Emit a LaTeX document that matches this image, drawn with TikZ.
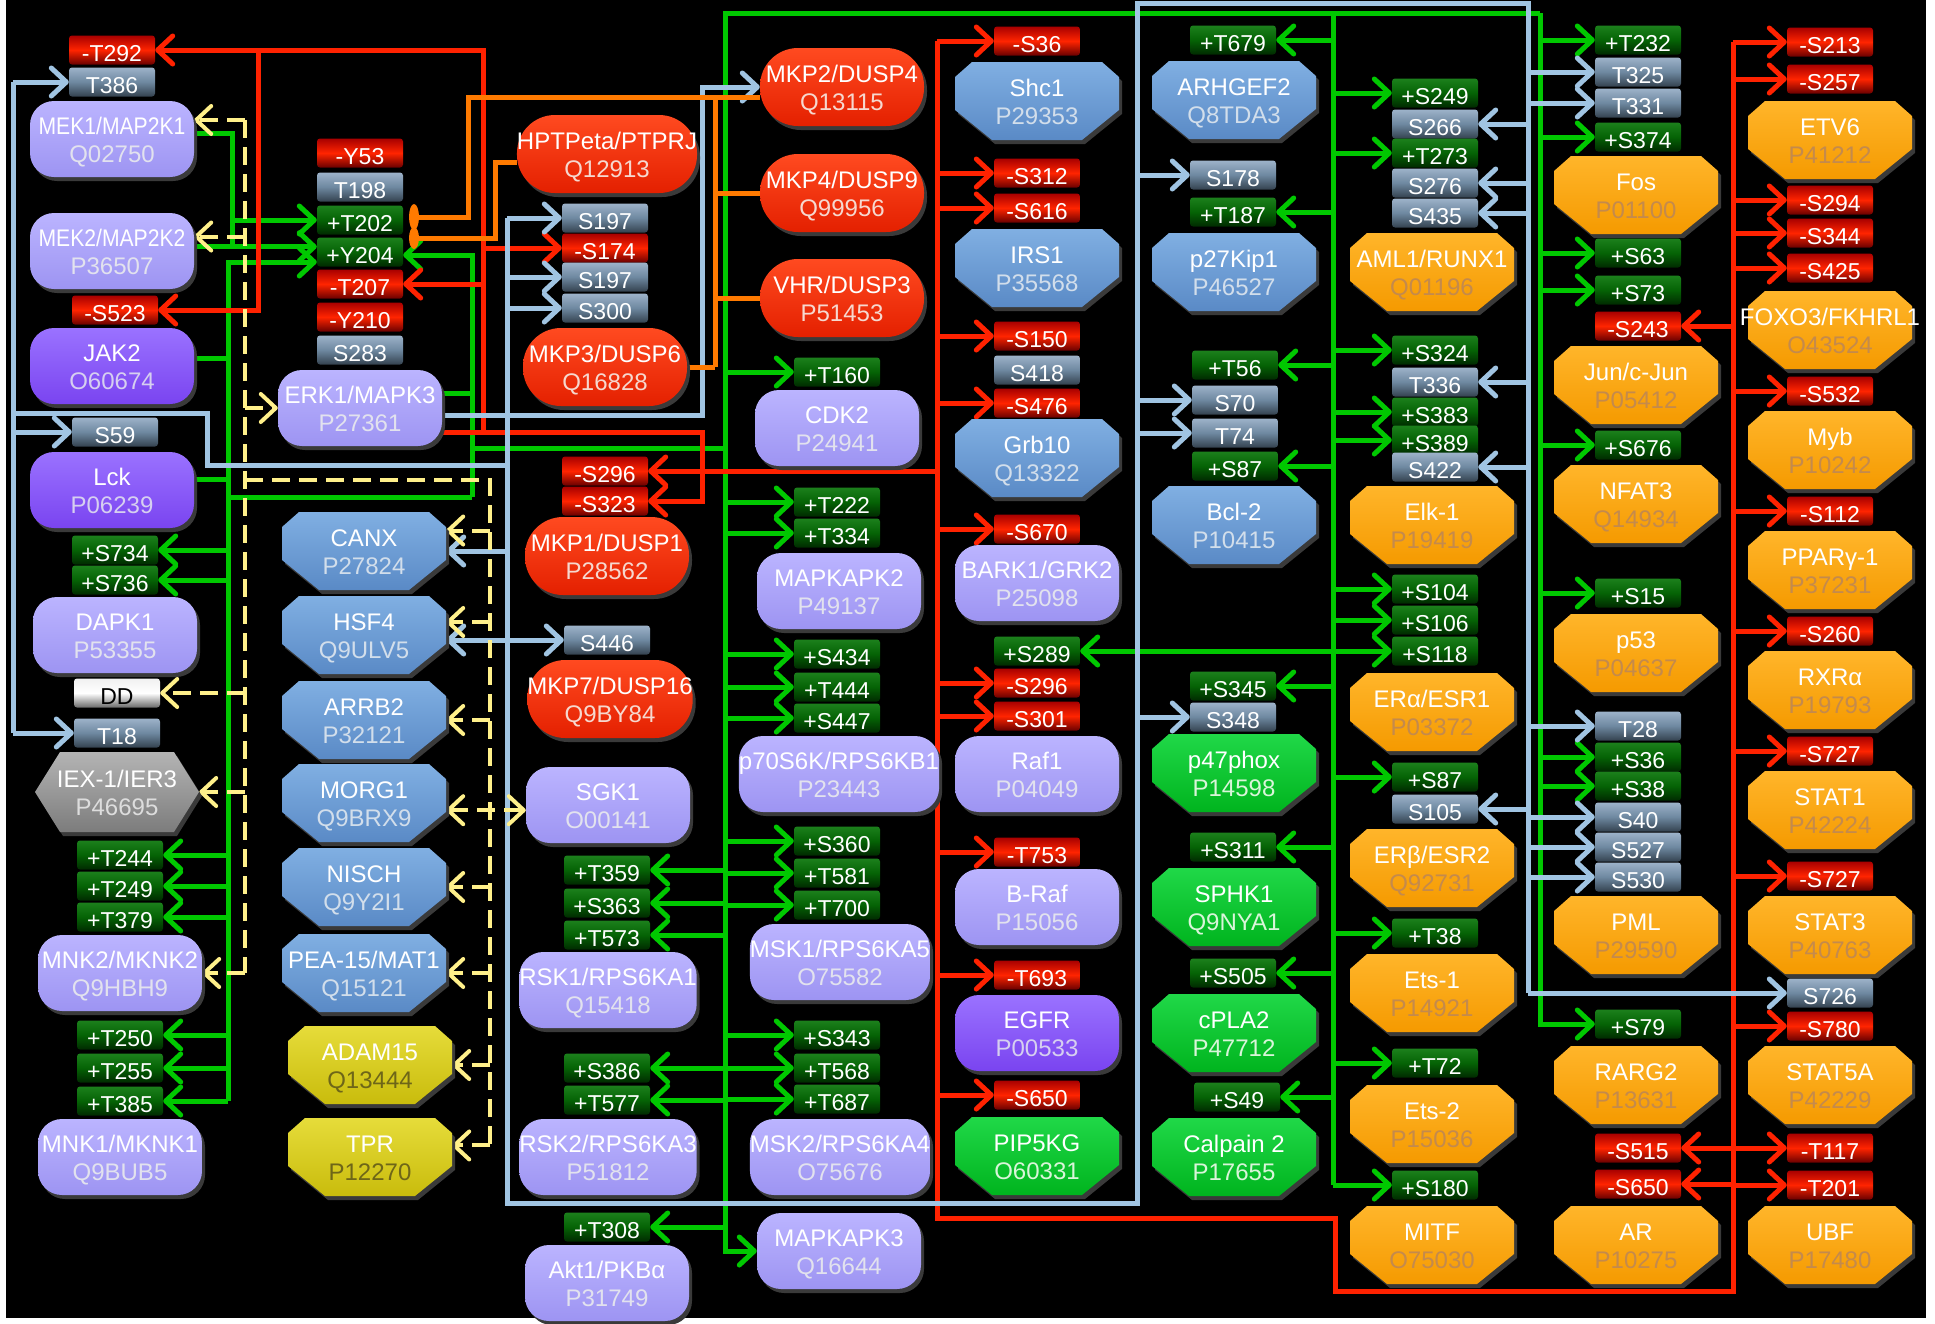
\documentclass[tikz,border=0pt]{standalone}
\usepackage{fontspec}
\usepackage{graphicx}
\setmainfont{Liberation Sans}
\usetikzlibrary{arrows.meta,shadows}

% line colours
\definecolor{lgrn}{HTML}{00C800}
\definecolor{lred}{HTML}{FF2200}
\definecolor{lblu}{HTML}{A0C4E2}
\definecolor{lorg}{HTML}{FF7A00}
\definecolor{lyel}{HTML}{FFF08A}
\definecolor{shadowc}{HTML}{3A3A3A}
% site tags
\definecolor{posT}{HTML}{1C801C}\definecolor{posM}{HTML}{056305}\definecolor{posB}{HTML}{002A00}
\definecolor{negT}{HTML}{A80000}\definecolor{negM}{HTML}{FF2400}\definecolor{negB}{HTML}{6A0000}
\definecolor{neuT}{HTML}{9DB2C9}\definecolor{neuM}{HTML}{6E88A0}\definecolor{neuB}{HTML}{34424F}
\definecolor{whtT}{HTML}{F0F0F0}\definecolor{whtM}{HTML}{FFFFFF}\definecolor{whtB}{HTML}{6A6A6A}
% protein boxes
\definecolor{kinT}{HTML}{BBB4FF}\definecolor{kinB}{HTML}{9D94F2}\definecolor{kinA}{HTML}{E2E2EE}
\definecolor{rtkT}{HTML}{9A72FF}\definecolor{rtkB}{HTML}{7A44F0}\definecolor{rtkA}{HTML}{D6CFF0}
\definecolor{phT}{HTML}{FF4A20}\definecolor{phB}{HTML}{E42000}\definecolor{phA}{HTML}{F6D8CF}
\definecolor{bluT}{HTML}{80AFE2}\definecolor{bluB}{HTML}{5A8AC6}\definecolor{bluA}{HTML}{D2DEEB}
\definecolor{orgT}{HTML}{FFB52A}\definecolor{orgB}{HTML}{F59A00}\definecolor{orgA}{HTML}{C48A4C}
\definecolor{grbT}{HTML}{20D848}\definecolor{grbB}{HTML}{00B41E}\definecolor{grbA}{HTML}{D9F5D9}
\definecolor{yelT}{HTML}{E6DC3A}\definecolor{yelB}{HTML}{C9BC0C}\definecolor{yelA}{HTML}{6E6618}
\definecolor{gryT}{HTML}{B4B4B4}\definecolor{gryB}{HTML}{7C7C7C}\definecolor{gryA}{HTML}{DDDDDD}

\pgfdeclarelayer{bg}
\pgfdeclarelayer{wires}
\pgfsetlayers{bg,wires,main}

\newcommand\boxfont{\fontsize{24}{28}\selectfont}
\newcommand\tagfont{\fontsize{23}{26}\selectfont}

% chamfered target box: name, x, y, colour set, title, accession
\newcommand\octo[6]{%
  \fill[shadowc,shift={(3,4)}] (#2-82,#3-24) -- (#2-65,#3-39) -- (#2+65,#3-39) -- (#2+82,#3-24)
    -- (#2+82,#3+9) -- (#2+45,#3+39) -- (#2-45,#3+39) -- (#2-82,#3+9) -- cycle;
  \shade[top color=#4T,bottom color=#4B] (#2-82,#3-24) -- (#2-65,#3-39) -- (#2+65,#3-39) -- (#2+82,#3-24)
    -- (#2+82,#3+9) -- (#2+45,#3+39) -- (#2-45,#3+39) -- (#2-82,#3+9) -- cycle;
  \node[prot] (#1) at (#2,#3) {#5\\\textcolor{#4A}{#6}};}

\begin{document}
\begin{tikzpicture}[x=1pt,y=-1pt,>={Straight Barb[length=15pt,width=28pt,round]},
  prot/.style={align=center,text=white,font=\boxfont,inner sep=0pt,minimum width=164pt,minimum height=78pt,
    text height=49pt,text depth=2pt},
  shd/.style={drop shadow={shadow xshift=3pt,shadow yshift=-4pt,fill=shadowc,opacity=1}},
  kin/.style={prot,minimum height=76pt,rounded corners=24pt,shd,top color=kinT,bottom color=kinB},
  rtk/.style={kin,top color=rtkT,bottom color=rtkB},
  phos/.style={prot,rounded corners=38pt,shd,top color=phT,bottom color=phB},
  tagbox/.style={minimum width=86pt,minimum height=29pt,inner sep=0pt,rounded corners=3pt,text=white,
    font=\tagfont,text height=22pt,text depth=0pt},
  ptag/.style={tagbox,top color=posT,bottom color=posB,middle color=posM},
  ntag/.style={tagbox,top color=negT,bottom color=negB,middle color=negM},
  gtag/.style={tagbox,top color=neuT,bottom color=neuB,middle color=neuM},
  wtag/.style={tagbox,top color=whtT,bottom color=whtB,middle color=whtM,text=black},
  gline/.style={draw=lgrn,line width=5pt},
  gar/.style={gline,->},
  rline/.style={draw=lred,line width=5pt},
  rar/.style={rline,->},
  bwire/.style={draw=lblu,line width=5pt},
  barr/.style={bwire,->},
  oline/.style={draw=lorg,line width=5pt},
  yline/.style={draw=lyel,line width=4pt,dash pattern=on 18pt off 9pt},
  yar/.style={yline,->}]
\useasboundingbox (0,0) rectangle (1935,1323);
\begin{pgfonlayer}{bg}
  \fill[white] (0,0) rectangle (1935,1323);
  \fill[black] (6,0) rectangle (1926,1318);
\end{pgfonlayer}

% column 1
\node[ntag] (mek1T292) at (112,50) {-T292};
\node[gtag] (mek1T386) at (112,82) {T386};
\node[kin] (mek1) at (112,139) {\scalebox{.88}[1]{MEK1/MAP2K1}\\\textcolor{kinA}{Q02750}};
\node[kin] (mek2) at (112,251) {\scalebox{.88}[1]{MEK2/MAP2K2}\\\textcolor{kinA}{P36507}};
\node[ntag] (jak2S523) at (115,310) {-S523};
\node[rtk] (jak2) at (112,366) {JAK2\\\textcolor{rtkA}{O60674}};
\node[gtag] (lckS59) at (115,432) {S59};
\node[rtk] (lck) at (112,490) {Lck\\\textcolor{rtkA}{P06239}};
\node[ptag] (dapkS734) at (115,550) {+S734};
\node[ptag] (dapkS736) at (115,580) {+S736};
\node[kin] (dapk1) at (115,635) {DAPK1\\\textcolor{kinA}{P53355}};
\node[wtag] (dapkDD) at (117,693) {DD};
\node[gtag] (iexT18) at (117,733) {T18};
\fill[shadowc,shift={(3,4)}] (35,792) -- (60,752) -- (174,752) -- (199,792) -- (174,832) -- (60,832) -- cycle;
\shade[top color=gryT,bottom color=gryB] (35,792) -- (60,752) -- (174,752) -- (199,792) -- (174,832) -- (60,832) -- cycle;
\node[prot] (iex) at (117,792) {IEX-1/IER3\\\textcolor{gryA}{P46695}};
\node[ptag] (mnk2T244) at (120,855) {+T244};
\node[ptag] (mnk2T249) at (120,886) {+T249};
\node[ptag] (mnk2T379) at (120,917) {+T379};
\node[kin] (mnk2) at (120,973) {MNK2/MKNK2\\\textcolor{kinA}{Q9HBH9}};
\node[ptag] (mnk1T250) at (120,1035) {+T250};
\node[ptag] (mnk1T255) at (120,1068) {+T255};
\node[ptag] (mnk1T385) at (120,1101) {+T385};
\node[kin] (mnk1) at (120,1157) {MNK1/MKNK1\\\textcolor{kinA}{Q9BUB5}};

% ERK1 and its sites
\node[ntag] (erkY53) at (360,153) {-Y53};
\node[gtag] (erkT198) at (360,187) {T198};
\node[ptag] (erkT202) at (360,220) {+T202};
\node[ptag] (erkY204) at (360,252) {+Y204};
\node[ntag] (erkT207) at (360,284) {-T207};
\node[ntag] (erkY210) at (360,317) {-Y210};
\node[gtag] (erkS283) at (360,350) {S283};
\node[kin] (erk1) at (360,408) {ERK1/MAPK3\\\textcolor{kinA}{P27361}};

% binding partners
\octo{canx}{364}{551}{blu}{CANX}{P27824}
\octo{hsf4}{364}{635}{blu}{HSF4}{Q9ULV5}
\octo{arrb2}{364}{720}{blu}{ARRB2}{P32121}
\octo{morg1}{364}{803}{blu}{MORG1}{Q9BRX9}
\octo{nisch}{364}{887}{blu}{NISCH}{Q9Y2I1}
\octo{pea15}{364}{973}{blu}{PEA-15/MAT1}{Q15121}
\octo{adam15}{370}{1065}{yel}{ADAM15}{Q13444}
\octo{tpr}{370}{1157}{yel}{TPR}{P12270}

% column 3
\node[phos] (hptp) at (607,154) {HPTPeta/PTPRJ\\\textcolor{phA}{Q12913}};
\node[gtag] (mkp3S197a) at (605,218) {S197};
\node[ntag] (mkp3S174) at (605,248) {-S174};
\node[gtag] (mkp3S197b) at (605,277) {S197};
\node[gtag] (mkp3S300) at (605,308) {S300};
\node[phos] (mkp3) at (605,367) {MKP3/DUSP6\\\textcolor{phA}{Q16828}};
\node[ntag] (mkp1S296) at (605,471) {-S296};
\node[ntag] (mkp1S323) at (605,501) {-S323};
\node[phos] (mkp1) at (607,556) {MKP1/DUSP1\\\textcolor{phA}{P28562}};
\node[gtag] (mkp7S446) at (607,640) {S446};
\node[phos] (mkp7) at (610,699) {MKP7/DUSP16\\\textcolor{phA}{Q9BY84}};
\node[kin] (sgk1) at (608,805) {SGK1\\\textcolor{kinA}{O00141}};
\node[ptag] (rsk1T359) at (607,870) {+T359};
\node[ptag] (rsk1S363) at (607,903) {+S363};
\node[ptag] (rsk1T573) at (607,935) {+T573};
\node[kin] (rsk1) at (608,990) {RSK1/RPS6KA1\\\textcolor{kinA}{Q15418}};
\node[ptag] (rsk2S386) at (607,1068) {+S386};
\node[ptag] (rsk2T577) at (607,1100) {+T577};
\node[kin] (rsk2) at (608,1157) {RSK2/RPS6KA3\\\textcolor{kinA}{P51812}};
\node[ptag] (aktT308) at (607,1227) {+T308};
\node[kin] (akt1) at (607,1283) {Akt1/PKBα\\\textcolor{kinA}{P31749}};

% column 4
\node[phos] (mkp2) at (842,87) {MKP2/DUSP4\\\textcolor{phA}{Q13115}};
\node[phos] (mkp4) at (842,193) {MKP4/DUSP9\\\textcolor{phA}{Q99956}};
\node[phos] (vhr) at (842,298) {VHR/DUSP3\\\textcolor{phA}{P51453}};
\node[ptag] (cdkT160) at (837,372) {+T160};
\node[kin] (cdk2) at (837,428) {CDK2\\\textcolor{kinA}{P24941}};
\node[ptag] (mk2T222) at (837,502) {+T222};
\node[ptag] (mk2T334) at (837,533) {+T334};
\node[kin] (mk2) at (839,591) {MAPKAPK2\\\textcolor{kinA}{P49137}};
\node[ptag] (p70S434) at (837,654) {+S434};
\node[ptag] (p70T444) at (837,687) {+T444};
\node[ptag] (p70S447) at (837,718) {+S447};
\node[kin] (p70) at (839,774) {p70S6K/RPS6KB1\\\textcolor{kinA}{P23443}};
\node[ptag] (msk1S360) at (837,841) {+S360};
\node[ptag] (msk1T581) at (837,873) {+T581};
\node[ptag] (msk1T700) at (837,905) {+T700};
\node[kin] (msk1) at (840,962) {MSK1/RPS6KA5\\\textcolor{kinA}{O75582}};
\node[ptag] (msk2S343) at (837,1035) {+S343};
\node[ptag] (msk2T568) at (837,1068) {+T568};
\node[ptag] (msk2T687) at (837,1099) {+T687};
\node[kin] (msk2) at (840,1157) {MSK2/RPS6KA4\\\textcolor{kinA}{O75676}};
\node[kin] (mk3) at (839,1251) {MAPKAPK3\\\textcolor{kinA}{Q16644}};

% column 5
\node[ntag] (shcS36) at (1037,41) {-S36};
\octo{shc1}{1037}{101}{blu}{Shc1}{P29353}
\node[ntag] (irsS312) at (1037,173) {-S312};
\node[ntag] (irsS616) at (1037,208) {-S616};
\octo{irs1}{1037}{268}{blu}{IRS1}{P35568}
\node[ntag] (grbS150) at (1037,336) {-S150};
\node[gtag] (grbS418) at (1037,370) {S418};
\node[ntag] (grbS476) at (1037,403) {-S476};
\octo{grb10}{1037}{458}{blu}{Grb10}{Q13322}
\node[ntag] (grkS670) at (1037,529) {-S670};
\node[kin] (grk2) at (1037,583) {BARK1/GRK2\\\textcolor{kinA}{P25098}};
\node[ptag] (rafS289) at (1037,651) {+S289};
\node[ntag] (rafS296) at (1037,683) {-S296};
\node[ntag] (rafS301) at (1037,716) {-S301};
\node[kin] (raf1) at (1037,774) {Raf1\\\textcolor{kinA}{P04049}};
\node[ntag] (brafT753) at (1037,852) {-T753};
\node[kin] (braf) at (1037,907) {B-Raf\\\textcolor{kinA}{P15056}};
\node[ntag] (egfrT693) at (1037,975) {-T693};
\node[rtk] (egfr) at (1037,1033) {EGFR\\\textcolor{rtkA}{P00533}};
\node[ntag] (pipS650) at (1037,1095) {-S650};
\octo{pip5kg}{1037}{1156}{grb}{PIP5KG}{O60331}

% column 6
\node[ptag] (arhT679) at (1233,40) {+T679};
\octo{arhgef2}{1234}{100}{blu}{ARHGEF2}{Q8TDA3}
\node[gtag] (p27S178) at (1233,175) {S178};
\node[ptag] (p27T187) at (1233,212) {+T187};
\octo{p27}{1234}{272}{blu}{p27Kip1}{P46527}
\node[ptag] (bclT56) at (1235,365) {+T56};
\node[gtag] (bclS70) at (1235,400) {S70};
\node[gtag] (bclT74) at (1235,433) {T74};
\node[ptag] (bclS87) at (1235,466) {+S87};
\octo{bcl2}{1234}{525}{blu}{Bcl-2}{P10415}
\node[ptag] (p47S345) at (1233,686) {+S345};
\node[gtag] (p47S348) at (1233,717) {S348};
\octo{p47}{1234}{773}{grb}{p47phox}{P14598}
\node[ptag] (sphkS311) at (1233,847) {+S311};
\octo{sphk1}{1234}{907}{grb}{SPHK1}{Q9NYA1}
\node[ptag] (cplaS505) at (1233,973) {+S505};
\octo{cpla2}{1234}{1033}{grb}{cPLA2}{P47712}
\node[ptag] (capnS49) at (1237,1097) {+S49};
\octo{capn2}{1234}{1157}{grb}{Calpain 2}{P17655}

% column 7
\node[ptag] (amlS249) at (1435,93) {+S249};
\node[gtag] (amlS266) at (1435,124) {S266};
\node[ptag] (amlT273) at (1435,153) {+T273};
\node[gtag] (amlS276) at (1435,183) {S276};
\node[gtag] (amlS435) at (1435,213) {S435};
\octo{aml1}{1432}{272}{org}{AML1/RUNX1}{Q01196}
\node[ptag] (elkS324) at (1435,350) {+S324};
\node[gtag] (elkT336) at (1435,382) {T336};
\node[ptag] (elkS383) at (1435,412) {+S383};
\node[ptag] (elkS389) at (1435,440) {+S389};
\node[gtag] (elkS422) at (1435,467) {S422};
\octo{elk1}{1432}{525}{org}{Elk-1}{P19419}
\node[ptag] (eraS104) at (1435,589) {+S104};
\node[ptag] (eraS106) at (1435,620) {+S106};
\node[ptag] (eraS118) at (1435,651) {+S118};
\octo{era}{1432}{712}{org}{ERα/ESR1}{P03372}
\node[ptag] (erbS87) at (1435,777) {+S87};
\node[gtag] (erbS105) at (1435,809) {S105};
\octo{erb}{1432}{868}{org}{ERβ/ESR2}{Q92731}
\node[ptag] (ets1T38) at (1435,933) {+T38};
\octo{ets1}{1432}{993}{org}{Ets-1}{P14921}
\node[ptag] (ets2T72) at (1435,1063) {+T72};
\octo{ets2}{1432}{1124}{org}{Ets-2}{P15036}
\node[ptag] (mitfS180) at (1435,1185) {+S180};
\octo{mitf}{1432}{1245}{org}{MITF}{O75030}

% column 8
\node[ptag] (fosT232) at (1638,40) {+T232};
\node[gtag] (fosT325) at (1638,72) {T325};
\node[gtag] (fosT331) at (1638,103) {T331};
\node[ptag] (fosS374) at (1638,137) {+S374};
\octo{fos}{1636}{195}{org}{Fos}{P01100}
\node[ptag] (junS63) at (1638,253) {+S63};
\node[ptag] (junS73) at (1638,290) {+S73};
\node[ntag] (junS243) at (1638,326) {-S243};
\octo{jun}{1636}{385}{org}{Jun/c-Jun}{P05412}
\node[ptag] (nfatS676) at (1638,445) {+S676};
\octo{nfat3}{1636}{504}{org}{NFAT3}{Q14934}
\node[ptag] (p53S15) at (1638,593) {+S15};
\octo{p53}{1636}{653}{org}{p53}{P04637}
\node[gtag] (pmlT28) at (1638,726) {T28};
\node[ptag] (pmlS36) at (1638,757) {+S36};
\node[ptag] (pmlS38) at (1638,786) {+S38};
\node[gtag] (pmlS40) at (1638,817) {S40};
\node[gtag] (pmlS527) at (1638,847) {S527};
\node[gtag] (pmlS530) at (1638,877) {S530};
\octo{pml}{1636}{935}{org}{PML}{P29590}
\node[ptag] (rargS79) at (1638,1024) {+S79};
\octo{rarg2}{1636}{1085}{org}{RARG2}{P13631}
\node[ntag] (arS515) at (1638,1148) {-S515};
\node[ntag] (arS650) at (1638,1184) {-S650};
\octo{ar}{1636}{1245}{org}{AR}{P10275}

% column 9
\node[ntag] (etvS213) at (1830,42) {-S213};
\node[ntag] (etvS257) at (1830,79) {-S257};
\octo{etv6}{1830}{140}{org}{ETV6}{P41212}
\node[ntag] (foxS294) at (1830,200) {-S294};
\node[ntag] (foxS344) at (1830,233) {-S344};
\node[ntag] (foxS425) at (1830,268) {-S425};
\octo{foxo3}{1830}{330}{org}{FOXO3/FKHRL1}{O43524}
\node[ntag] (mybS532) at (1830,391) {-S532};
\octo{myb}{1830}{450}{org}{Myb}{P10242}
\node[ntag] (pparS112) at (1830,511) {-S112};
\octo{ppar}{1830}{570}{org}{PPARγ-1}{P37231}
\node[ntag] (rxrS260) at (1830,631) {-S260};
\octo{rxra}{1830}{690}{org}{RXRα}{P19793}
\node[ntag] (stat1S727) at (1830,751) {-S727};
\octo{stat1}{1830}{810}{org}{STAT1}{P42224}
\node[ntag] (stat3S727) at (1830,876) {-S727};
\octo{stat3}{1830}{935}{org}{STAT3}{P40763}
\node[gtag] (s5aS726) at (1830,993) {S726};
\node[ntag] (s5aS780) at (1830,1026) {-S780};
\octo{stat5a}{1830}{1085}{org}{STAT5A}{P42229}
\node[ntag] (ubfT117) at (1830,1148) {-T117};
\node[ntag] (ubfT201) at (1830,1185) {-T201};
\octo{ubf}{1830}{1245}{org}{UBF}{P17480}

\begin{pgfonlayer}{wires}
% green: activating sites
\coordinate (gbA) at (725,13);
\coordinate (gbB) at (1333,13);
\coordinate (gbC) at (1540,13);
\coordinate (gbE) at (472,255);
\coordinate (gbF) at (472,497);
\coordinate (gbG) at (228,497);
\coordinate (gbH) at (228,262);
\coordinate (gbI) at (472,448);
\coordinate (gbM) at (232,220);
\draw[gar] (gbC) -- (gbA) -- (gbA |- mk3) -- (mk3.west);
\draw[gar] (gbC) -- (gbC |- rargS79) -- (rargS79.west);
\draw[gline] (gbB) -- (gbB |- mitfS180);
\foreach \n in {cdkT160,mk2T222,mk2T334,p70S434,p70T444,p70S447,msk1S360,msk1T581,msk1T700,msk2S343,msk2T568,msk2T687}
  \draw[gar] (gbA |- \n) -- (\n.west);
\foreach \n in {rsk1T359,rsk1S363,rsk1T573,rsk2S386,rsk2T577,aktT308}
  \draw[gar] (gbA |- \n) -- (\n.east);
\foreach \n in {amlS249,amlT273,elkS324,elkS383,elkS389,eraS104,eraS106,eraS118,erbS87,ets1T38,ets2T72,mitfS180}
  \draw[gar] (gbB |- \n) -- (\n.west);
\foreach \n in {arhT679,p27T187,bclT56,bclS87,p47S345,sphkS311,cplaS505,capnS49,rafS289}
  \draw[gar] (gbB |- \n) -- (\n.east);
\foreach \n in {fosT232,fosS374,junS63,junS73,nfatS676,p53S15,pmlS36,pmlS38}
  \draw[gar] (gbC |- \n) -- (\n.west);
\draw[gline] (erk1.10) -- (erk1.10 -| gbE);
\draw[gar] (gbF) -- (gbE) -- (erkY204.east |- gbE);
\draw[gline] (gbI) -- (gbA |- gbI);
\draw[gline] (gbF) -- (gbG) -- (gbG |- mnk1T385);
\draw[gar] (gbG) -- (gbH) -- (erkY204.west |- gbH);
\foreach \n in {dapkS734,dapkS736,mnk2T244,mnk2T249,mnk2T379,mnk1T250,mnk1T255,mnk1T385}
  \draw[gar] (gbG |- \n) -- (\n.east);
\draw[gline] (jak2.5) -- (gbG |- jak2.5);
\draw[gline] (lck.7) -- (gbG |- lck.7);
\draw[gar] (mek1.4) -| (gbM) -- (erkT202.west);
\draw[gline] (gbM) -- (gbM |- mek2.3);
\draw[gar] (mek2.3) -- (erkY204.west |- mek2.3);

% red: inhibiting sites
\coordinate (rdA) at (483,50);
\coordinate (rdB) at (483,432);
\coordinate (rdC) at (702,432);
\coordinate (rdE) at (258,50);
\coordinate (rdF) at (937,41);
\coordinate (rdG) at (937,1218);
\coordinate (rdH) at (1335,1218);
\coordinate (rdI) at (1335,1291);
\coordinate (rdJ) at (1733,1291);
\coordinate (rdK) at (1733,42);
\draw[rar] (erk1.east |- rdB) -- (rdC) -- (rdC |- mkp1S323) -- (mkp1S323.east);
\draw[rar] (rdB) -- (rdA) -- (mek1T292.east);
\draw[rar] (rdE) -- (rdE |- jak2S523) -- (jak2S523.east);
\draw[rar] (rdA |- erkT207) -- (erkT207.east);
\draw[rar] (rdA |- mkp3S174) -- (mkp3S174.west);
\draw[rline] (rdF) -- (rdG) -- (rdH) -- (rdI) -- (rdJ) -- (rdK);
\foreach \n in {shcS36,irsS312,irsS616,grbS150,grbS476,grkS670,rafS296,rafS301,brafT753,egfrT693,pipS650}
  \draw[rar] (rdF |- \n) -- (\n.west);
\draw[rar] (rdF |- mkp1S296) -- (mkp1S296.east);
\foreach \n in {etvS213,etvS257,foxS294,foxS344,foxS425,mybS532,pparS112,rxrS260,stat1S727,stat3S727,s5aS780,ubfT117,ubfT201}
  \draw[rar] (rdK |- \n) -- (\n.west);
\foreach \n in {junS243,arS515,arS650}
  \draw[rar] (rdK |- \n) -- (\n.east);

% light blue: sites of unknown effect
\coordinate (lbA) at (13,82);
\coordinate (lbC) at (207,413);
\coordinate (lbD) at (207,465);
\coordinate (lbW) at (507,218);
\coordinate (lbS) at (507,1203);
\coordinate (lbT) at (1137,1203);
\coordinate (lbU) at (1137,3);
\coordinate (lbV) at (1528,3);
\coordinate (lbK) at (702,415);
\draw[bwire] (lbA |- mek1T386) -- (lbA |- iexT18);
\foreach \n in {mek1T386,lckS59,iexT18}
  \draw[barr] (lbA |- \n) -- (\n.west);
\draw[bwire] (lbA |- lbC) -- (lbC) -- (lbD) -- (lbW |- lbD);
\draw[bwire] (lbW |- mkp3S197a) -- (lbS) -- (lbT) -- (lbU) -- (lbV) -- (lbV |- s5aS726);
\draw[barr] (lbV |- s5aS726) -- (s5aS726.west);
\foreach \n in {mkp3S197a,mkp3S197b,mkp3S300}
  \draw[barr] (lbW |- \n) -- (\n.west);
\draw[barr] (lbW |- canx) -- (canx.east);
\draw[barr,<->] (hsf4.east |- mkp7S446) -- (mkp7S446.west);
\draw[barr] (erk1.east |- lbK) -- (lbK) |- (mkp2.west);
\foreach \n in {p27S178,bclS70,bclT74,p47S348}
  \draw[barr] (lbU |- \n) -- (\n.west);
\foreach \n in {fosT325,fosT331,pmlT28,pmlS40,pmlS527,pmlS530}
  \draw[barr] (lbV |- \n) -- (\n.west);
\foreach \n in {amlS266,amlS276,amlS435,elkT336,elkS422,erbS105}
  \draw[barr] (lbV |- \n) -- (\n.east);

% orange: phosphatases on ERK1
\coordinate (orA) at (468,97);
\coordinate (orB) at (715,97);
\coordinate (orD) at (495,162);
\coordinate (orP) at (414,217);
\coordinate (orQ) at (414,238);
\draw[oline] (mkp2.west |- orA) -- (orA) |- (orP);
\draw[oline] (orB) -- (orB |- mkp3);
\foreach \n in {mkp4,vhr}
  \draw[oline] (\n.west) -- (orB |- \n);
\draw[oline] (mkp3.east) -- (orB |- mkp3);
\draw[oline] (hptp.west |- orD) -- (orD) |- (orQ);
\fill[lorg] (orP) ellipse [x radius=5pt, y radius=13pt];
\fill[lorg] (orQ) ellipse [x radius=5pt, y radius=11pt];

% yellow dashed: binding
\coordinate (ydA) at (245,120);
\coordinate (ydB) at (245,973);
\coordinate (ydC) at (245,480);
\coordinate (ydD) at (490,480);
\draw[yline] (ydA) -- (ydB);
\draw[yar] (ydA) -- (mek1.east |- ydA);
\draw[yar] (ydA |- mek2.10) -- (mek2.10);
\draw[yar] (ydA |- erk1) -- (erk1.west);
\draw[yar] (ydA |- dapkDD) -- (dapkDD.east);
\draw[yar] (ydA |- iex) -- (iex.east);
\draw[yar] (ydB) -- (mnk2.east);
\draw[yline] (ydC) -- (ydD) -- (ydD |- tpr.8);
\foreach \a in {canx.14,hsf4.9,arrb2.0,nisch.0,pea15.0,adam15.0,tpr.8}
  \draw[yar] (ydD |- \a) -- (\a);
\draw[yar,<->] (morg1.-5) -- (morg1.-5 -| sgk1.west);
\end{pgfonlayer}
\end{tikzpicture}
\end{document}
